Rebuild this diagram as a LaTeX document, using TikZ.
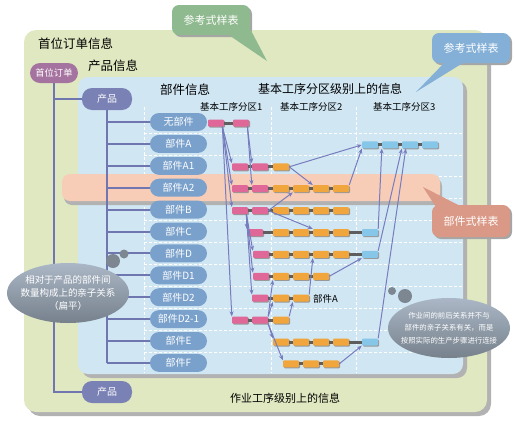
\documentclass[tikz,border=0pt]{standalone}
\usepackage{fontspec}
\setmainfont{Noto Sans CJK SC}
\usetikzlibrary{arrows.meta,shadows,shapes.geometric}

\definecolor{greenbox}{HTML}{E0E8C1}
\definecolor{bluebox}{HTML}{D0E6F3}
\definecolor{boxshadow}{HTML}{B2B2B2}
\definecolor{orderc}{HTML}{A5739F}
\definecolor{prodc}{HTML}{7A81B4}
\definecolor{partc}{HTML}{7AA1CB}
\definecolor{treec}{HTML}{7076B0}
\definecolor{flowc}{HTML}{767CBE}
\definecolor{pinkp}{HTML}{E06898}
\definecolor{orangep}{HTML}{F0A63C}
\definecolor{bluep}{HTML}{86C6E8}
\definecolor{linkc}{HTML}{5E5E5E}
\definecolor{bandc}{HTML}{F8CDB8}
\definecolor{calgreen}{HTML}{8FB98F}
\definecolor{calblue}{HTML}{84B0D8}
\definecolor{calsalmon}{HTML}{DA9886}
\definecolor{notetop}{HTML}{76818C}
\definecolor{notebot}{HTML}{ABB7C6}
\definecolor{bubblec}{HTML}{7C8792}

\begin{document}
\begin{tikzpicture}[x=1pt,y=-1pt,
    title/.style={anchor=west, inner sep=0pt, font=\fontsize{12.5}{15}\selectfont},
    zonehead/.style={anchor=west, inner sep=0pt, font=\fontsize{9.5}{11}\selectfont},
    ordernode/.style={rounded corners=10pt, fill=orderc, text=white, minimum width=48pt, minimum height=20pt, inner sep=0pt, font=\fontsize{9.3}{11}\selectfont},
    prodnode/.style={rounded corners=10pt, fill=prodc, text=white, minimum width=50pt, minimum height=22pt, inner sep=0pt, font=\fontsize{10}{12}\selectfont},
    part/.style={rounded corners=9pt, fill=partc, text=white, minimum width=57pt, minimum height=18pt, inner sep=0pt, font=\fontsize{10}{12}\selectfont},
    procbar/.style={rounded corners=1pt, minimum width=16pt, minimum height=7pt, inner sep=0pt, drop shadow={shadow xshift=1pt, shadow yshift=-1pt, fill=black!40, opacity=1}},
    barlink/.style={linkc, line width=3pt},
    treeline/.style={treec, line width=2pt},
    flowarrow/.style={flowc, line width=1pt, -{Stealth[length=5pt,width=4pt]}},
    gridline/.style={white, line width=0.8pt, dash pattern=on 3pt off 2pt},
    refbox/.style={rounded corners=7pt, minimum width=78pt, minimum height=30pt, inner sep=0pt, text=white, font=\fontsize{11}{13}\selectfont, drop shadow={shadow xshift=2pt, shadow yshift=-2pt, fill=black!35, opacity=1}},
    notebubble/.style={ellipse, top color=notebot, bottom color=notetop, text=white, align=center, minimum width=122pt, minimum height=60pt, inner sep=-8pt}]
   \useasboundingbox (0,0) rectangle (515,421);

   \fill[boxshadow, rounded corners=12pt] (28,34) rectangle (491,416);
   \fill[greenbox, rounded corners=12pt] (24,30) rectangle (487,412);
   \fill[boxshadow, rounded corners=10pt] (82,81) rectangle (467,378);
   \fill[bluebox, rounded corners=10pt] (78,77) rectangle (463,374);

   \foreach \r in {0,...,10} \draw[gridline] (144,133+21.9*\r) -- (463,133+21.9*\r);
   \foreach \x in {144,271,356} \draw[gridline] (\x,107) -- (\x,373);

   \fill[boxshadow, rounded corners=8pt] (64,178) rectangle (442,205);
   \fill[bandc, rounded corners=8pt] (62,174) rectangle (440,201);

   \node[title] (t1) at (38,44) {首位订单信息};
   \node[title] (t2) at (88,66) {产品信息};
   \node[title] (t3) at (160,90) {部件信息};
   \node[title, font=\fontsize{12}{14}\selectfont] (t4) at (258,89) {基本工序分区级别上的信息};
   \node[zonehead] (z1) at (200,107) {基本工序分区1};
   \node[zonehead] (z2) at (280,107) {基本工序分区2};
   \node[zonehead] (z3) at (373,107) {基本工序分区3};
   \node[font=\fontsize{11}{13}\selectfont] (t5) at (285,398) {作业工序级别上的信息};

   \node[ordernode] (order) at (54,73) {首位订单};
   \node[prodnode] (prod) at (107,99) {产品};
   \node[prodnode] (prod2) at (107,392) {产品};
   \foreach \t [count=\r from 0] in {无部件,部件A,部件A1,部件A2,部件B,部件C,部件D,部件D1,部件D2,部件D2-1,部件E,部件F}
     \node[part] (p\r) at (178.5,122+21.9*\r) {\t};

   \draw[treeline] (order) |- (prod2);
   \draw[treeline] (order.south |- prod) -- (prod);
   \draw[treeline] (prod) -- (prod |- p11);
   \foreach \r in {0,...,11} \draw[treeline] (prod |- p\r) -- (p\r);

   \foreach \r/\bars in {
     0/{208/pinkp,233/pinkp},
     1/{362/bluep,382/bluep,402/bluep,422/bluep},
     2/{232/pinkp,252/pinkp,273/orangep},
     3/{232/pinkp,252/pinkp,273/orangep,293/orangep,313/orangep,333/orangep},
     4/{232/pinkp,252/pinkp,273/orangep,293/orangep,313/orangep,333/orangep},
     5/{247/pinkp,273/orangep,293/orangep,313/orangep,333/orangep,362/bluep},
     6/{253/pinkp,273/orangep,293/orangep,313/orangep,333/orangep,362/bluep},
     7/{253/pinkp,273/orangep,293/orangep,313/orangep},
     8/{252/pinkp,273/orangep,293/orangep},
     9/{232/pinkp,252/pinkp,273/orangep},
     10/{273/orangep,293/orangep,313/orangep,333/orangep,362/bluep},
     11/{283/orangep,303/orangep,323/orangep}}
     \foreach \x/\c [count=\i] in \bars {
       \node[procbar, fill=\c] (b\r-\i) at (\x+8,123+21.9*\r) {};
       \ifnum\i>1 \pgfmathtruncatemacro\j{\i-1}\draw[barlink] (b\r-\j) -- (b\r-\i);\fi
     }

   \node[anchor=west, inner sep=0pt, font=\fontsize{9.5}{11}\selectfont] (tagA) at (313,299) {部件A};

   \draw[flowarrow] (b0-1.-30) -- (b2-1.north west);
   \draw[flowarrow] (b0-1.-30) -- (b3-1.north west);
   \draw[flowarrow] (b0-1.-30) -- (b4-1.north west);
   \draw[flowarrow] (b0-1.-30) -- (b9-1.north west);
   \draw[flowarrow] (b0-2.-30) -- (b2-2.north west);
   \draw[flowarrow] (b0-2.-30) -- (b3-2.north west);
   \draw[flowarrow] (b2-3.east) -- (b1-1.west);
   \draw[flowarrow] (b2-3.east) -- (b3-5.north west);
   \draw[flowarrow] (b3-6.north east) -- (b1-1.south west);
   \draw[flowarrow] (b4-2.east) -- (b3-4.south west);
   \draw[flowarrow] (b4-2.east) -- (b5-4.north west);
   \draw[flowarrow] (b4-1.-30) -- (b5-1.north west);
   \draw[flowarrow] (b4-1.-30) -- (b6-1.north west);
   \draw[flowarrow] (b4-1.-30) -- (b7-1.north west);
   \draw[flowarrow] (b4-1.-30) -- (b8-1.north west);
   \draw[flowarrow] (b9-2.north east) -- (b7-2.south west);
   \draw[flowarrow] (b9-2.north east) -- (b8-2.south west);
   \draw[flowarrow] (b9-2.south east) -- (b10-1.north west);
   \draw[flowarrow] (b9-2.south east) -- (b11-1.north west);
   \draw[flowarrow] (b9-3.north east) -- (b8-3.south west);
   \draw[flowarrow] (b8-3.north east) -- (b6-4.south west);
   \draw[flowarrow] (b7-4.east) -- (b6-6.south west);
   \draw[flowarrow] (b11-3.east) -- (b10-5.south west);
   \draw[flowarrow] (b5-6.north east) -- (b1-2.south west);
   \draw[flowarrow] (b6-6.north east) -- (b1-3.south west);
   \draw[flowarrow] (b10-5.north east) -- ([xshift=4pt]b1-3.south west);

   \coordinate (tip1) at (267,61);
   \coordinate (tip2) at (416,92);
   \coordinate (tip3) at (423,187);
   \node[refbox, fill=calgreen] (ref1) at (211,20) {参考式样表};
   \fill[calgreen] ([xshift=-24pt,yshift=2pt]ref1.south east) -- (tip1) -- ([xshift=-1pt,yshift=-7pt]ref1.east) -- cycle;
   \node[refbox, fill=calblue] (ref2) at (471,48) {参考式样表};
   \fill[calblue] ([xshift=14pt,yshift=2pt]ref2.south west) -- (tip2) -- ([xshift=34pt,yshift=2pt]ref2.south west) -- cycle;
   \node[refbox, fill=calsalmon, minimum height=32pt] (ref3) at (471,221) {部件式样表};
   \fill[calsalmon] ([xshift=4pt,yshift=-2pt]ref3.north west) -- (tip3) -- ([xshift=30pt,yshift=-2pt]ref3.north west) -- cycle;

   \fill[bubblec] (124,254) circle (4.5pt);
   \fill[bubblec] (113,261) circle (7pt);
   \node[notebubble, font=\fontsize{9.5}{13}\selectfont] (note1) at (68,293) {相对于产品的部件间\\数量构成上的亲子关系\\（扁平）};
   \fill[bubblec] (392,291) circle (4pt);
   \fill[bubblec] (405,296) circle (7pt);
   \node[notebubble, font=\fontsize{7.4}{12.5}\selectfont] (note2) at (449,328) {作业间的前后关系并不与\\部件的亲子关系有关，而是\\按照实际的生产步骤进行连接};
 \end{tikzpicture}
\end{document}
